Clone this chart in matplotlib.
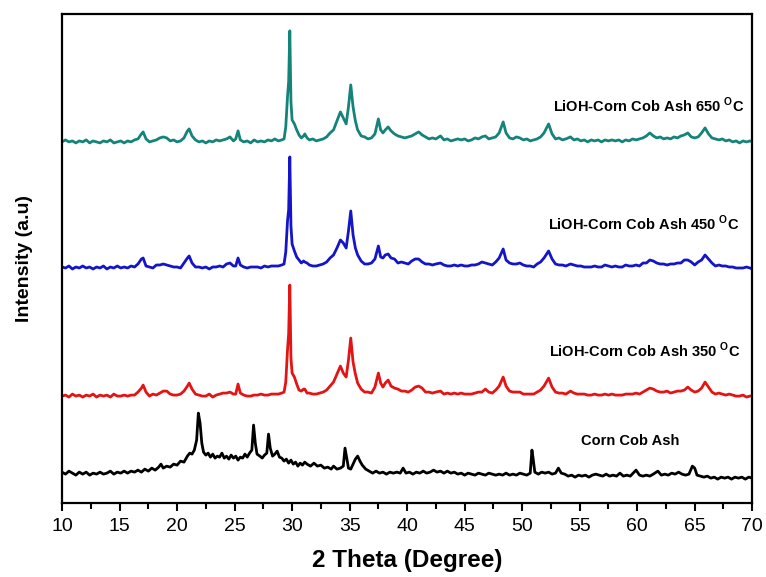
import matplotlib.pyplot as plt
import numpy as np

plt.rcParams['font.family'] = ['Liberation Sans', 'DejaVu Sans']
plt.rcParams['mathtext.fontset'] = 'custom'
plt.rcParams['mathtext.rm'] = 'Liberation Sans'
plt.rcParams['mathtext.bf'] = 'Liberation Sans:bold'

# shared 2theta grid for the LiOH treated samples
two_theta = [
    10.0, 10.3, 10.6, 10.9, 11.2, 11.5, 11.8, 12.1, 12.4, 12.7,
    13.0, 13.3, 13.6, 13.9, 14.2, 14.5, 14.8, 15.1, 15.4, 15.7,
    16.0, 16.3, 16.6, 16.9, 17.05, 17.3, 17.6, 17.9, 18.2, 18.5,
    18.8, 19.1, 19.4, 19.7, 20.0, 20.3, 20.6, 20.9, 21.05, 21.3,
    21.6, 21.9, 22.2, 22.5, 22.8, 23.1, 23.4, 23.7, 24.0, 24.3,
    24.6, 24.9, 25.1, 25.3, 25.5, 25.8, 26.1, 26.4, 26.7, 27.0,
    27.3, 27.6, 27.9, 28.2, 28.5, 28.8, 29.1, 29.3, 29.45, 29.6,
    29.7, 29.8, 29.9, 30.0, 30.2, 30.4, 30.6, 30.8, 31.0, 31.1,
    31.3, 31.5, 31.8, 32.1, 32.4, 32.7, 33.0, 33.3, 33.6, 33.9,
    34.2, 34.45, 34.7, 34.9, 35.1, 35.3, 35.5, 35.7, 36.0, 36.3,
    36.6, 36.9, 37.2, 37.5, 37.7, 37.9, 38.1, 38.35, 38.6, 38.9,
    39.2, 39.5, 39.8, 40.1, 40.4, 40.7, 41.0, 41.3, 41.6, 41.9,
    42.2, 42.5, 42.9, 43.2, 43.5, 43.8, 44.1, 44.4, 44.7, 45.0,
    45.3, 45.6, 45.9, 46.2, 46.5, 46.8, 47.1, 47.4, 47.7, 48.0,
    48.35, 48.6, 48.9, 49.2, 49.5, 49.8, 50.1, 50.4, 50.7, 51.0,
    51.3, 51.6, 51.9, 52.3, 52.6, 52.9, 53.2, 53.5, 53.8, 54.2,
    54.5, 54.8, 55.1, 55.4, 55.7, 56.0, 56.3, 56.6, 56.9, 57.2,
    57.5, 57.8, 58.1, 58.4, 58.7, 59.0, 59.3, 59.6, 59.9, 60.2,
    60.5, 60.8, 61.1, 61.4, 61.7, 62.0, 62.3, 62.6, 62.9, 63.2,
    63.5, 63.8, 64.1, 64.4, 64.7, 65.0, 65.3, 65.6, 65.9, 66.2,
    66.5, 66.8, 67.1, 67.4, 67.7, 68.0, 68.3, 68.6, 68.9, 69.2,
    69.5, 69.8, 70.0]

lioh_650 = [
    0, 2, 0, 1, -1, 1, 0, 2, -1, 1,
    0, -1, 1, 0, 2, -1, 0, 1, -1, 1,
    0, 2, 3, 8, 10, 3, 0, 1, 2, 4,
    5, 4, 1, 2, 0, 1, 4, 11, 13, 6,
    2, 0, 1, -1, 1, 0, 2, 1, 2, 3,
    5, 1, 3, 11, 2, 0, 1, -1, 2, 0,
    1, 0, 2, 1, 3, 1, 2, 3, 15, 45,
    60, 111, 40, 22, 18, 12, 7, 4, 6, 8,
    4, 2, 3, 1, 2, 3, 5, 9, 12, 21,
    30, 24, 18, 35, 57, 35, 21, 12, 6, 5,
    3, 4, 8, 23, 12, 9, 12, 15, 11, 8,
    6, 5, 4, 5, 6, 8, 10, 7, 5, 3,
    4, 3, 6, 2, 3, 1, 2, 3, 2, 3,
    1, 2, 4, 3, 5, 6, 3, 4, 5, 9,
    20, 9, 4, 3, 5, 4, 2, 3, 1, 2,
    3, 5, 9, 18, 8, 3, 4, 2, 3, 5,
    2, 3, 1, 2, 0, 2, 1, 2, 0, 2,
    1, 2, 1, 2, 0, 2, 1, 3, 2, 3,
    4, 6, 9, 6, 4, 5, 3, 4, 3, 5,
    4, 6, 7, 9, 5, 4, 5, 9, 14, 8,
    4, 3, 2, 3, 1, 2, 0, 1, -1, 1,
    0, 1, 0]

lioh_450 = [
    1, 0, 2, -1, 1, 0, 2, 0, 1, -1,
    1, 0, 2, -1, 1, 0, 2, 0, 1, 0,
    2, 1, 4, 9, 10, 2, 1, 0, 3, 3,
    4, 3, 2, 1, 1, 0, 5, 10, 12, 5,
    1, 1, 0, 1, -1, 1, 1, 2, 1, 4,
    5, 2, 2, 10, 3, 1, 0, 1, 1, 1,
    0, 2, 1, 2, 2, 2, 3, 4, 16, 47,
    58, 111, 42, 24, 17, 11, 8, 5, 7, 6,
    5, 3, 2, 2, 3, 4, 6, 10, 13, 20,
    28, 25, 20, 37, 57, 33, 20, 13, 7, 4,
    4, 5, 9, 22, 11, 10, 13, 14, 10, 9,
    5, 6, 5, 4, 7, 9, 9, 6, 4, 4,
    3, 4, 5, 3, 2, 2, 3, 2, 3, 2,
    2, 3, 3, 4, 6, 5, 4, 3, 6, 10,
    19, 8, 5, 4, 4, 5, 3, 2, 2, 1,
    4, 6, 10, 17, 9, 4, 3, 3, 2, 4,
    3, 2, 2, 1, 1, 1, 2, 1, 1, 3,
    2, 1, 2, 1, 1, 3, 2, 2, 3, 2,
    5, 5, 8, 7, 5, 4, 4, 3, 4, 4,
    5, 5, 8, 8, 6, 3, 6, 8, 13, 9,
    5, 2, 3, 2, 2, 1, 1, 0, 0, 0,
    1, 0, -1]

lioh_350 = [
    0, 1, -1, 2, 0, 1, -1, 1, 0, 2,
    -1, 1, 0, 1, -1, 2, 0, 0, 1, 0,
    1, 1, 4, 8, 11, 4, 0, 2, 1, 3,
    5, 5, 2, 1, 1, 2, 5, 10, 13, 7,
    2, 1, 0, 0, 2, -1, 1, 2, 3, 3,
    4, 2, 2, 12, 3, 1, 0, 0, 1, 1,
    2, 1, 1, 2, 2, 2, 3, 4, 14, 46,
    62, 111, 38, 23, 19, 12, 6, 5, 7, 7,
    3, 3, 2, 2, 3, 4, 6, 10, 14, 22,
    30, 23, 19, 36, 58, 34, 22, 13, 7, 4,
    4, 3, 9, 23, 13, 9, 13, 16, 10, 8,
    7, 5, 5, 4, 6, 9, 10, 8, 4, 4,
    3, 4, 5, 2, 3, 2, 3, 2, 3, 2,
    2, 2, 3, 4, 4, 7, 4, 3, 6, 10,
    19, 10, 5, 4, 4, 4, 2, 2, 2, 2,
    4, 6, 10, 18, 9, 4, 3, 3, 2, 5,
    3, 2, 2, 2, 1, 1, 2, 1, 1, 2,
    1, 2, 1, 1, 1, 2, 2, 2, 3, 2,
    4, 6, 8, 7, 5, 4, 4, 5, 3, 4,
    5, 5, 6, 9, 6, 4, 5, 8, 14, 9,
    4, 2, 3, 2, 1, 2, 1, 0, 0, 1,
    -1, 0, 0]

# raw corn cob ash
two_theta_ash = [
    10.0, 10.3, 10.6, 10.9, 11.2, 11.5, 11.8, 12.1, 12.4, 12.7,
    13.0, 13.3, 13.6, 13.9, 14.2, 14.5, 14.8, 15.1, 15.4, 15.7,
    16.0, 16.3, 16.6, 16.9, 17.2, 17.5, 17.8, 18.1, 18.4, 18.6,
    18.8, 19.1, 19.4, 19.7, 20.0, 20.3, 20.6, 20.9, 21.1, 21.3,
    21.5, 21.7, 21.85, 22.0, 22.15, 22.3, 22.5, 22.7, 22.9, 23.1,
    23.3, 23.5, 23.7, 23.9, 24.1, 24.3, 24.5, 24.7, 24.9, 25.1,
    25.3, 25.5, 25.7, 25.9, 26.1, 26.3, 26.5, 26.65, 26.8, 26.95,
    27.2, 27.4, 27.6, 27.8, 27.95, 28.1, 28.3, 28.5, 28.7, 28.9,
    29.1, 29.3, 29.5, 29.7, 29.9, 30.1, 30.3, 30.5, 30.7, 30.9,
    31.1, 31.3, 31.6, 31.9, 32.2, 32.5, 32.8, 33.1, 33.4, 33.6,
    33.9, 34.2, 34.45, 34.6, 34.75, 34.9, 35.1, 35.3, 35.5, 35.7,
    35.9, 36.1, 36.4, 36.7, 37.0, 37.3, 37.6, 37.9, 38.2, 38.5,
    38.8, 39.1, 39.4, 39.65, 39.9, 40.2, 40.5, 40.8, 41.1, 41.4,
    41.7, 42.0, 42.3, 42.6, 42.9, 43.2, 43.5, 43.8, 44.1, 44.4,
    44.7, 45.0, 45.3, 45.6, 45.9, 46.2, 46.5, 46.8, 47.1, 47.4,
    47.7, 48.0, 48.3, 48.6, 48.9, 49.2, 49.5, 49.8, 50.1, 50.4,
    50.7, 50.85, 50.95, 51.1, 51.4, 51.7, 52.0, 52.3, 52.6, 52.9,
    53.15, 53.4, 53.7, 54.0, 54.3, 54.6, 54.9, 55.2, 55.5, 55.8,
    56.1, 56.4, 56.7, 57.0, 57.3, 57.6, 57.9, 58.2, 58.5, 58.8,
    59.1, 59.4, 59.9, 60.2, 60.5, 60.8, 61.1, 61.4, 61.8, 62.1,
    62.4, 62.7, 63.0, 63.3, 63.6, 63.9, 64.2, 64.5, 64.8, 65.0,
    65.2, 65.5, 65.8, 66.1, 66.4, 66.7, 67.0, 67.3, 67.6, 67.9,
    68.2, 68.5, 68.8, 69.1, 69.4, 69.7, 70.0]

ash = [
    6, 4, 7, 5, 3, 6, 4, 6, 3, 5,
    4, 6, 4, 5, 7, 4, 6, 5, 7, 5,
    7, 6, 8, 6, 9, 7, 10, 8, 11, 14,
    10, 12, 11, 14, 13, 17, 16, 22, 25, 24,
    28, 38, 65, 55, 35, 26, 23, 25, 21, 24,
    20, 22, 21, 25, 20, 22, 19, 23, 20, 22,
    18, 21, 20, 24, 21, 25, 28, 53, 35, 24,
    22, 20, 23, 25, 44, 30, 22, 24, 27, 21,
    20, 17, 19, 15, 18, 14, 16, 12, 15, 13,
    16, 14, 12, 15, 12, 13, 10, 11, 9, 12,
    9, 10, 12, 30, 20, 10, 9, 14, 19, 22,
    17, 13, 9, 7, 5, 7, 5, 6, 4, 6,
    5, 6, 5, 10, 5, 6, 4, 6, 5, 7,
    5, 6, 8, 6, 7, 5, 7, 5, 6, 4,
    5, 3, 5, 4, 3, 5, 4, 3, 5, 4,
    3, 4, 3, 5, 3, 4, 3, 5, 4, 3,
    5, 28, 20, 6, 4, 6, 5, 6, 4, 5,
    10, 5, 4, 2, 3, 1, 3, 2, 3, 1,
    3, 4, 3, 2, 4, 2, 3, 2, 5, 2,
    3, 2, 8, 3, 2, 3, 2, 4, 7, 3,
    4, 3, 5, 4, 6, 4, 3, 4, 12, 10,
    3, 2, 1, 2, 0, 1, -1, 1, 0, 1,
    -1, 1, 0, 1, -1, 1, 0]

series = [ash, lioh_350, lioh_450, lioh_650]
grids = [two_theta_ash, two_theta, two_theta, two_theta]
offsets = [25, 107, 235, 361]
colors = ['black', '#e41414', '#1414c8', '#14847a']
labels = ['Corn Cob Ash',
          r'LiOH-Corn Cob Ash 350 $^{\mathbf{O}}$C',
          r'LiOH-Corn Cob Ash 450 $^{\mathbf{O}}$C',
          r'LiOH-Corn Cob Ash 650 $^{\mathbf{O}}$C']
label_pos = [(55.1, 62), (52.35, 153), (52.26, 280), (52.7, 398)]

fig = plt.figure(figsize=(7.66, 5.77), dpi=100)
ax = fig.add_axes([0.081, 0.128, 0.901, 0.848])

for x, y, off, c in zip(grids, series, offsets, colors):
    ax.plot(x, np.array(y) + off, color=c, lw=2.0)

for lab, (lx, ly) in zip(labels, label_pos):
    ax.text(lx, ly, lab, fontsize=10.5, fontweight='bold', ha='left', va='center')

ax.set_xlim(10, 70)
ax.set_ylim(0, 489)
ax.set_xticks(np.arange(10, 71, 5))
ax.set_xticks(np.arange(12.5, 70, 5), minor=True)
ax.set_yticks([])
ax.tick_params(axis='x', which='major', direction='out', length=6, width=1.5,
               labelsize=14, pad=5)
ax.tick_params(axis='x', which='minor', direction='out', length=4, width=1.5)
for sp in ax.spines.values():
    sp.set_linewidth(1.6)

ax.set_xlabel('2 Theta (Degree)', fontsize=17.5, fontweight='bold', labelpad=10)
ax.set_ylabel('Intensity (a.u)', fontsize=14, fontweight='bold', labelpad=21)

plt.savefig('out.png', dpi=100)
